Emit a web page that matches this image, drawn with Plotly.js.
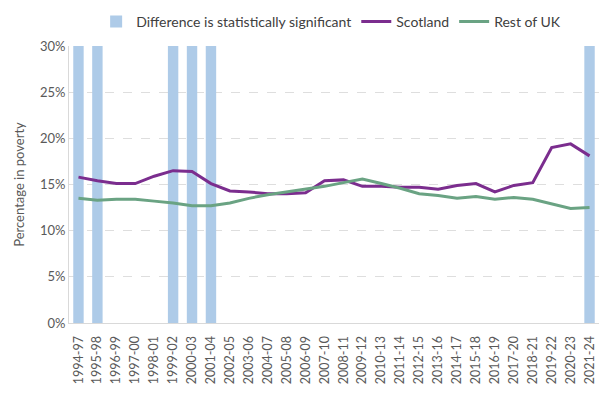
<!DOCTYPE html>
<html><head><meta charset="utf-8">
<script src="https://cdn.plot.ly/plotly-3.0.1.min.js"></script>
<style>html,body{margin:0;padding:0;background:#fff}#chart{width:608px;height:396px}</style>
</head><body><div id="chart"></div>
<script>
const periods = ["1994-97","1995-98","1996-99","1997-00","1998-01","1999-02","2000-03","2001-04","2002-05","2003-06","2004-07","2005-08","2006-09","2007-10","2008-11","2009-12","2010-13","2011-14","2012-15","2013-16","2014-17","2015-18","2016-19","2017-20","2018-21","2019-22","2020-23","2021-24"];
const scotland = [15.8,15.4,15.1,15.1,15.9,16.5,16.4,15.1,14.3,14.2,14.0,14.0,14.1,15.4,15.5,14.8,14.8,14.7,14.7,14.5,14.9,15.1,14.2,14.9,15.2,19.0,19.4,18.1];
const restOfUK = [13.5,13.3,13.4,13.4,13.2,13.0,12.7,12.7,13.0,13.5,13.9,14.2,14.5,14.8,15.2,15.6,15.1,14.6,14.0,13.8,13.5,13.7,13.4,13.6,13.4,12.9,12.4,12.5];
const significant = [1,1,0,0,0,1,1,1,0,0,0,0,0,0,0,0,0,0,0,0,0,0,0,0,0,0,0,1];
const barTop = 30;

const sigBars = significant.map(s => s ? barTop : null);
const font = "Lato, 'Noto Sans', sans-serif";
const traces = [
  {type:"bar", x:periods, y:sigBars, name:"Difference is statistically significant",
   marker:{color:"#aecbe8"}, width:0.55, hoverinfo:"skip"},
  {type:"scatter", mode:"lines", x:periods, y:scotland, name:"Scotland",
   line:{color:"#7b2d8e", width:3}},
  {type:"scatter", mode:"lines", x:periods, y:restOfUK, name:"Rest of UK",
   line:{color:"#6aa383", width:3}}
];
const layout = {
  width:608, height:396,
  margin:{l:69, r:9, t:46, b:73, autoexpand:false},
  paper_bgcolor:"#fff", plot_bgcolor:"#fff",
  font:{family:font, size:13, color:"#595959"},
  showlegend:true,
  legend:{orientation:"h", x:0.938, xanchor:"right", y:1.087, yanchor:"middle",
          font:{family:font, size:14, color:"#404040"}, traceorder:"normal", itemwidth:30},
  xaxis:{type:"category", tickangle:-90, showgrid:false, showline:true, linecolor:"#d9d9d9", linewidth:1,
         ticks:"", ticklabelstandoff:7, automargin:false, tickfont:{size:12.5, color:"#595959"}, range:[-0.5,27.5]},
  yaxis:{range:[0,30], dtick:5, ticksuffix:"%", showgrid:true, gridcolor:"#dedede", griddash:"dash",
         showline:true, linecolor:"#d9d9d9", linewidth:1, zeroline:false, ticks:"", automargin:false,
         tickfont:{size:13, color:"#595959"},
         title:{text:"Percentage in poverty", font:{size:13, color:"#595959"}, standoff:12}},
  bargap:0.45
};
Plotly.newPlot("chart", traces, layout, {displayModeBar:false, staticPlot:true});
</script></body></html>
